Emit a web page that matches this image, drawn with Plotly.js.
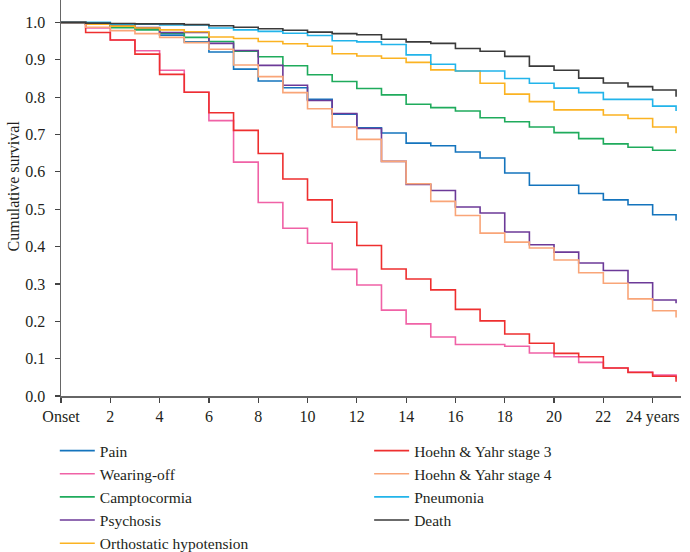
<!DOCTYPE html>
<html>
<head>
<meta charset="utf-8">
<script src="https://cdn.plot.ly/plotly-3.0.1.min.js"></script>
<style>html,body{margin:0;padding:0;background:#fff}#chart{width:690px;height:552px}</style>
</head>
<body>
<div id="chart"></div>
<script>
// Years since onset at which each step begins (last entry = end of follow-up)
const years = [0,1,2,3,4,5,6,7,8,9,10,11,12,13,14,15,16,17,18,19,20,21,22,23,24,24.95];

const pain         = [1.0,0.995,0.990,0.983,0.966,0.948,0.921,0.875,0.843,0.825,0.794,0.754,0.718,0.704,0.677,0.670,0.653,0.637,0.597,0.564,0.564,0.542,0.525,0.512,0.485,0.470];
const wearingOff   = [1.0,0.985,0.953,0.924,0.872,0.813,0.737,0.626,0.518,0.449,0.409,0.339,0.297,0.230,0.193,0.158,0.138,0.138,0.133,0.115,0.105,0.090,0.075,0.064,0.056,0.047];
const camptocormia = [1.0,0.995,0.986,0.980,0.971,0.960,0.949,0.923,0.908,0.884,0.860,0.842,0.823,0.806,0.781,0.772,0.763,0.745,0.734,0.720,0.705,0.689,0.675,0.666,0.658,0.658];
const psychosis    = [1.0,0.995,0.990,0.986,0.973,0.973,0.944,0.925,0.885,0.832,0.791,0.756,0.716,0.628,0.566,0.550,0.506,0.490,0.439,0.405,0.385,0.356,0.336,0.303,0.257,0.248];
const orthostatic  = [1.0,0.995,0.990,0.985,0.980,0.975,0.961,0.957,0.949,0.943,0.936,0.916,0.910,0.904,0.893,0.873,0.870,0.837,0.808,0.788,0.766,0.766,0.752,0.743,0.720,0.703];
const hy3          = [1.0,0.973,0.953,0.915,0.861,0.813,0.758,0.711,0.649,0.581,0.525,0.465,0.403,0.340,0.313,0.284,0.232,0.201,0.166,0.141,0.114,0.105,0.075,0.063,0.053,0.038];
const hy4          = [1.0,0.987,0.978,0.970,0.960,0.946,0.928,0.886,0.855,0.812,0.769,0.720,0.687,0.628,0.568,0.521,0.483,0.436,0.412,0.396,0.364,0.330,0.302,0.260,0.228,0.210];
const pneumonia    = [1.0,1.0,0.995,0.995,0.993,0.993,0.985,0.980,0.976,0.971,0.965,0.951,0.948,0.941,0.913,0.888,0.870,0.870,0.850,0.837,0.824,0.812,0.794,0.794,0.776,0.763];
const death        = [1.0,0.998,0.997,0.996,0.996,0.994,0.991,0.987,0.983,0.979,0.974,0.970,0.967,0.955,0.948,0.944,0.930,0.923,0.909,0.883,0.872,0.851,0.838,0.828,0.819,0.801];

const seriesNames = ["Pain","Wearing-off","Camptocormia","Psychosis","Orthostatic hypotension",
                     "Hoehn & Yahr stage 3","Hoehn & Yahr stage 4","Pneumonia","Death"];
const seriesData  = [pain, wearingOff, camptocormia, psychosis, orthostatic, hy3, hy4, pneumonia, death];
const seriesColors = ["#1474bd","#f062a6","#1fab5c","#6c3a98","#fbb322","#ee2f2f","#f9a578","#22b4ea","#3a3a3a"];
const seriesLegend = ["legend","legend","legend","legend","legend","legend2","legend2","legend2","legend2"];

const xTickVals = [0,2,4,6,8,10,12,14,16,18,20,22,24];
const xTickText = ["Onset","2","4","6","8","10","12","14","16","18","20","22","24 years"];
const yTickVals = [0,0.1,0.2,0.3,0.4,0.5,0.6,0.7,0.8,0.9,1.0];
const yTickText = ["0.0","0.1","0.2","0.3","0.4","0.5","0.6","0.7","0.8","0.9","1.0"];

const FONT = "Liberation Serif, Times New Roman, serif";

const traces = seriesData.map((ys, i) => ({
  type: "scatter",
  mode: "lines",
  x: years,
  y: ys,
  name: seriesNames[i],
  legend: seriesLegend[i],
  line: {shape: "hv", color: seriesColors[i], width: 1.6},
  hoverinfo: "skip"
}));

const layout = {
  width: 690, height: 552,
  margin: {l: 61, r: 9, t: 0, b: 156, autoexpand: false},
  paper_bgcolor: "#ffffff",
  plot_bgcolor: "#ffffff",
  font: {family: FONT, size: 16, color: "#231f20"},
  showlegend: true,
  xaxis: {
    range: [0, 25.15],
    tickvals: xTickVals, ticktext: xTickText,
    ticks: "outside", ticklen: 5, tickwidth: 1.2, tickcolor: "#444",
    showline: true, linecolor: "#666", linewidth: 1.5,
    showgrid: false, zeroline: false,
    tickfont: {family: FONT, size: 16, color: "#231f20"}
  },
  yaxis: {
    range: [0, 1.06],
    tickvals: yTickVals, ticktext: yTickText,
    ticks: "outside", ticklen: 5, tickwidth: 1.2, tickcolor: "#444",
    showline: true, linecolor: "#666", linewidth: 1.5,
    showgrid: false, zeroline: false,
    ticklabelstandoff: 6,
    tickfont: {family: FONT, size: 16, color: "#231f20"}
  },
  legend: {
    x: -0.01, xanchor: "left", y: -0.096, yanchor: "top",
    orientation: "v", bgcolor: "rgba(0,0,0,0)",
    font: {family: FONT, size: 15.5, color: "#231f20"},
    itemwidth: 35, tracegroupgap: 0
  },
  legend2: {
    x: 0.497, xanchor: "left", y: -0.096, yanchor: "top",
    orientation: "v", bgcolor: "rgba(0,0,0,0)",
    font: {family: FONT, size: 15.5, color: "#231f20"},
    itemwidth: 35, tracegroupgap: 0
  },
  annotations: [{
    text: "Cumulative survival",
    xref: "paper", yref: "paper",
    x: -0.077, y: 0.53, xanchor: "center", yanchor: "middle",
    textangle: -90, showarrow: false,
    font: {family: FONT, size: 16, color: "#231f20"}
  }]
};

Plotly.newPlot("chart", traces, layout, {displayModeBar: false, staticPlot: true});
</script>
</body>
</html>
